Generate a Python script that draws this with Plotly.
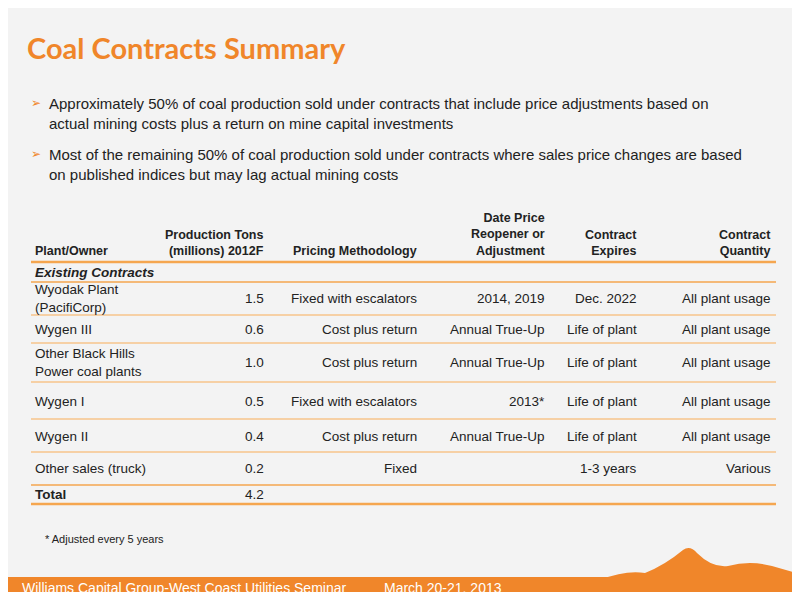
import plotly.graph_objects as go

headers = ["Plant/Owner", "Production Tons<br>(millions) 2012F", "Pricing Methodology",
           "Date Price<br>Reopener or<br>Adjustment", "Contract<br>Expires", "Contract<br>Quantity"]
plants = ["Wyodak Plant<br>(PacifiCorp)", "Wygen III", "Other Black Hills<br>Power coal plants",
          "Wygen I", "Wygen II", "Other sales (truck)"]
tons = ["1.5", "0.6", "1.0", "0.5", "0.4", "0.2"]
pricing = ["Fixed with escalators", "Cost plus return", "Cost plus return",
           "Fixed with escalators", "Cost plus return", "Fixed"]
reopener = ["2014, 2019", "Annual True-Up", "Annual True-Up", "2013*", "Annual True-Up", ""]
expires = ["Dec. 2022", "Life of plant", "Life of plant", "Life of plant", "Life of plant", "1-3 years"]
quantity = ["All plant usage"] * 5 + ["Various"]
total_tons = "4.2"

ORANGE = "#f0862a"
F = "Liberation Sans"
col_x = [33, 266, 419, 547, 639, 773]
row_y = [298, 329, 362, 401, 436, 468]
lines = [262, 282, 315, 343, 382, 419, 452, 485, 504]

fig = go.Figure()
ann = []
def t(x, y, s, anchor="left", size=13, color="#222", bold=False, ya="middle", font=F):
    if bold:
        s = "<b>" + s + "</b>"
    ann.append(dict(x=x, y=y, xref="x", yref="y", text=s, showarrow=False, xanchor=anchor,
                    yanchor=ya, align=anchor, font=dict(family=font, size=size, color=color)))

t(25, 47, "Coal Contracts Summary", size=29, color=ORANGE, bold=True, font="Lato")
bullets = ["Approximately 50% of coal production sold under contracts that include price adjustments based on<br>actual mining costs plus a return on mine capital investments",
           "Most of the remaining 50% of coal production sold under contracts where sales price changes are based<br>on published indices but may lag actual mining costs"]
for i, b in enumerate(bullets):
    y0 = 113 + i * 51
    t(29, y0 - 10, "➢", size=12, color=ORANGE)
    t(47, y0, b, size=15, color="#222")

for j, h in enumerate(headers):
    t(col_x[j], 260, h, anchor="left" if j == 0 else "right", size=12.5, bold=True, ya="bottom")
t(33, 272, "<b><i>Existing Contracts</i></b>", size=13.5)
cols = [plants, tons, pricing, reopener, expires, quantity]
for i, y in enumerate(row_y):
    for j, c in enumerate(cols):
        t(col_x[j], y, c[i], anchor="left" if j == 0 else "right", size=13.5)
t(33, 494, "Total", bold=True, size=13.5)
t(266, 494, total_tons, anchor="right", size=13.5)
t(43, 539, "* Adjusted every 5 years", size=11)
t(689, 572, "<b>45</b>", anchor="center", size=10, color=ORANGE)
t(20, 588, "Williams Capital Group-West Coast Utilities Seminar", size=14, color="white")
t(382, 588, "March 20-21, 2013", size=14, color="white")

shapes = [dict(type="rect", x0=0, x1=800, y0=577, y1=600, fillcolor=ORANGE, line_width=0, layer="below"),
          dict(type="path", path="M 600 580 Q 625 570 645 573 Q 665 565 683 550 Q 690 545 697 553 Q 712 568 728 566 Q 750 560 772 566 L 800 574 L 800 580 Z",
               fillcolor=ORANGE, line_width=0, layer="below")]
for k, y in enumerate(lines):
    shapes.append(dict(type="line", x0=31, x1=776, y0=y, y1=y,
                       line=dict(color="#f5a64f" if k in (0, 1, 7, 8) else "#f7c48b",
                                 width=2.5 if k in (0, 8) else 1.5)))

fig.update_layout(width=784, height=584, margin=dict(l=0, r=0, t=0, b=0),
                  paper_bgcolor="#f3f3f3", plot_bgcolor="#f3f3f3",
                  xaxis=dict(range=[8, 792], visible=False, fixedrange=True),
                  yaxis=dict(range=[592, 8], visible=False, fixedrange=True),
                  annotations=ann, shapes=shapes, showlegend=False)
fig.write_html("out.html")
